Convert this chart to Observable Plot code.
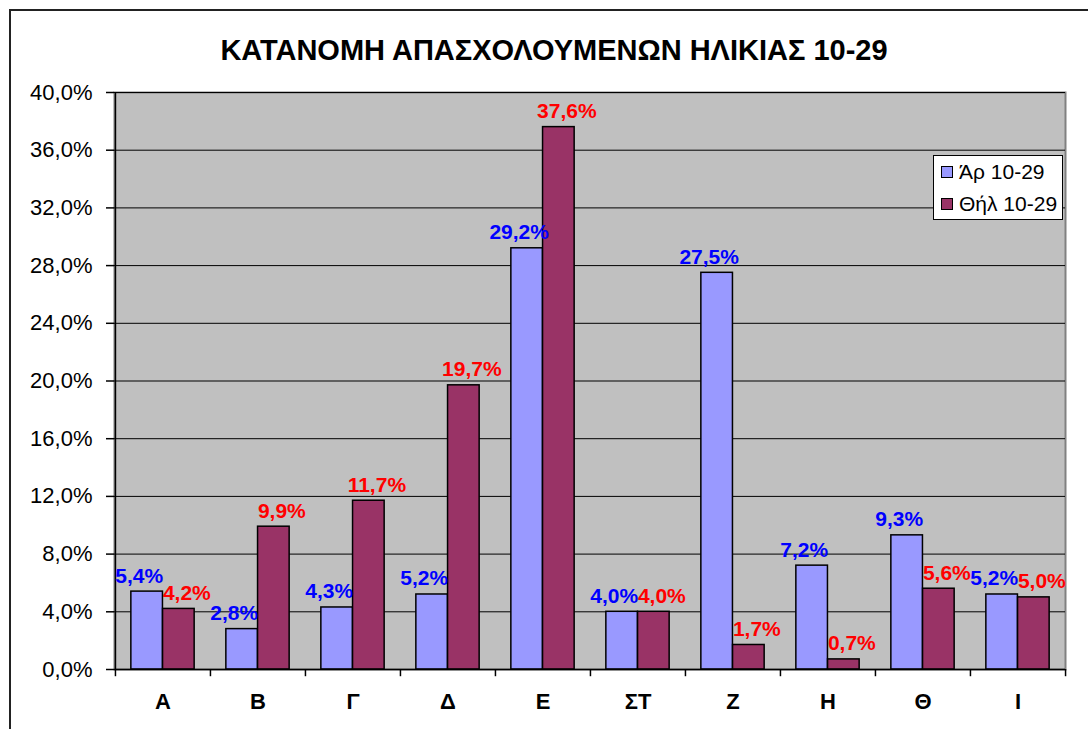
<!DOCTYPE html>
<html>
<head>
<meta charset="utf-8">
<script src="https://cdn.jsdelivr.net/npm/d3@7"></script>
<script src="https://cdn.jsdelivr.net/npm/@observablehq/plot@0.6"></script>
<style>
  body { margin: 0; background: white; }
  #wrap { position: relative; width: 1088px; height: 729px; overflow: hidden; font-family: "Liberation Sans", Arial, sans-serif; }
  #border { position: absolute; left: 9px; top: 9px; width: 2000px; height: 2000px; border-left: 2px solid #222; border-top: 2px solid #222; }
  #title { position: absolute; left: 0; width: 1108px; top: 33px; line-height: 34px; text-align: center; font-weight: bold; font-size: 29px; }
  #chart { position: absolute; left: 0; top: 0; }
  #legend { position: absolute; left: 933px; top: 155px; width: 128px; height: 63px; border: 1px solid black; background: white; font-size: 21px; }
  .item { position: absolute; left: 7px; height: 24px; line-height: 24px; white-space: nowrap; }
  .sw { display: inline-block; width: 10px; height: 10px; border: 1px solid black; margin-right: 6px; vertical-align: 1px; }
</style>
</head>
<body>
<div id="wrap">
  <div id="border"></div>
  <div id="chart"></div>
  <div id="title"></div>
  <div id="legend"></div>
</div>
<script>
const titleText = "ΚΑΤΑΝΟΜΗ ΑΠΑΣΧΟΛΟΥΜΕΝΩΝ ΗΛΙΚΙΑΣ 10-29";
const categories = ["Α", "Β", "Γ", "Δ", "Ε", "ΣΤ", "Ζ", "Η", "Θ", "Ι"];
const seriesNames = ["Άρ 10-29", "Θήλ 10-29"];
const maleValues = [5.4, 2.8, 4.3, 5.2, 29.2, 4.0, 27.5, 7.2, 9.3, 5.2];
const femaleValues = [4.2, 9.9, 11.7, 19.7, 37.6, 4.0, 1.7, 0.7, 5.6, 5.0];
const yTicks = [0, 4, 8, 12, 16, 20, 24, 28, 32, 36, 40];
const barColors = ["#9999ff", "#993366"];
const labelColors = ["#0000ff", "#ff0000"];

const fmt = d => d.toFixed(1).replace(".", ",") + "%";

const W = 1088, H = 729, mL = 114, mR = 23, mT = 92, mB = 60;
const bw = (W - mL - mR) / categories.length;

const maleData = categories.map((c, i) => ({cat: c, value: maleValues[i]}));
const femaleData = categories.map((c, i) => ({cat: c, value: femaleValues[i]}));

document.getElementById("title").textContent = titleText;

const chart = Plot.plot({
  width: W, height: H,
  marginLeft: mL, marginRight: mR, marginTop: mT, marginBottom: mB,
  x: {domain: categories, padding: 0},
  y: {domain: [0, 40]},
  style: {fontFamily: "'Liberation Sans', Arial, sans-serif", fontSize: "22px", color: "black", background: "transparent", overflow: "visible"},
  marks: [
    Plot.frame({fill: "#c0c0c0", stroke: "#808080", strokeWidth: 2}),
    Plot.ruleY(yTicks.slice(1), {stroke: "black", strokeWidth: 1}),
    Plot.barY(maleData, {x: "cat", y: "value", fill: barColors[0], stroke: "black", strokeWidth: 1.5, insetLeft: bw / 6, insetRight: bw / 2}),
    Plot.barY(femaleData, {x: "cat", y: "value", fill: barColors[1], stroke: "black", strokeWidth: 1.5, insetLeft: bw / 2, insetRight: bw / 6}),
    Plot.ruleY([0], {stroke: "black", strokeWidth: 1.5}),
    Plot.ruleX([categories[0]], {stroke: "black", strokeWidth: 1.5, dx: -bw / 2}),
    Plot.ruleX(categories, {x: d => d, y1: 0, y2: -0.5, dx: -bw / 2, stroke: "black", strokeWidth: 1.5}),
    Plot.ruleX([categories[categories.length - 1]], {x: d => d, y1: 0, y2: -0.5, dx: bw / 2, stroke: "black", strokeWidth: 1.5}),
    Plot.axisY({ticks: yTicks, tickFormat: fmt, tickSize: 8, tickPadding: 14, fontSize: 22, label: null, strokeWidth: 1.5}),
    Plot.axisX({tickSize: 0, tickPadding: 24, fontSize: 22, fontWeight: "bold", label: null}),
    Plot.text(maleData, {x: "cat", y: "value", text: d => fmt(d.value), dx: -bw / 6 - 8, dy: -9, lineAnchor: "bottom", fill: labelColors[0], fontWeight: "bold", fontSize: 21}),
    Plot.text(femaleData, {x: "cat", y: "value", text: d => fmt(d.value), dx: bw / 6 + 8, dy: -9, lineAnchor: "bottom", fill: labelColors[1], fontWeight: "bold", fontSize: 21})
  ]
});
document.getElementById("chart").appendChild(chart);

const legend = document.getElementById("legend");
seriesNames.forEach((name, i) => {
  const it = document.createElement("div");
  it.className = "item";
  it.style.top = (4 + i * 32) + "px";
  const sw = document.createElement("span");
  sw.className = "sw";
  sw.style.background = barColors[i];
  it.appendChild(sw);
  it.appendChild(document.createTextNode(name));
  legend.appendChild(it);
});
</script>
</body>
</html>
